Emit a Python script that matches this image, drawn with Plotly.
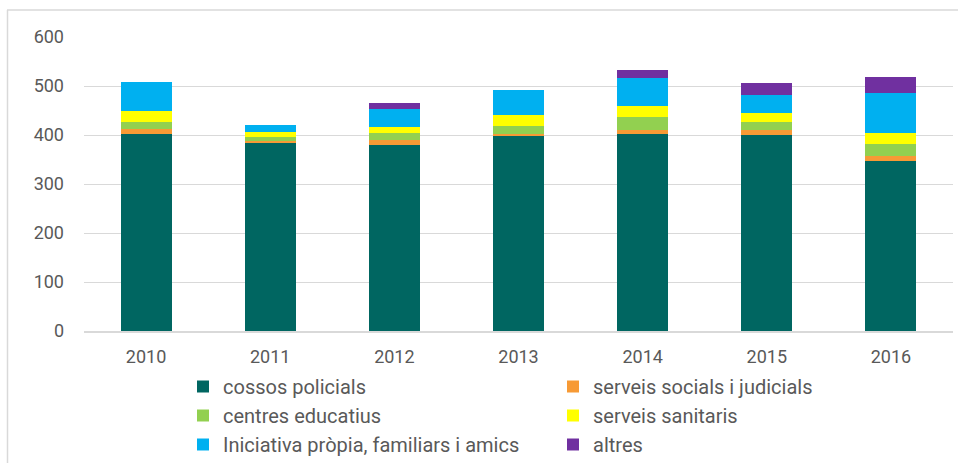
import plotly.graph_objects as go

years = ["2010", "2011", "2012", "2013", "2014", "2015", "2016"]

cossos_policials = [403, 384, 380, 398, 403, 400, 346]
serveis_socials = [9, 4, 10, 5, 8, 10, 11]
centres_educatius = [15, 7, 14, 16, 26, 16, 24]
serveis_sanitaris = [22, 11, 12, 22, 22, 18, 23]
iniciativa_propia = [59, 15, 37, 51, 57, 38, 82]
altres = [0, 0, 13, 0, 16, 25, 33]

series = [
    ("cossos policials", cossos_policials, "#006661"),
    ("serveis socials i judicials", serveis_socials, "#F79A35"),
    ("centres educatius", centres_educatius, "#92D050"),
    ("serveis sanitaris", serveis_sanitaris, "#FFFF00"),
    ("Iniciativa pròpia, familiars i amics", iniciativa_propia, "#00B0F0"),
    ("altres", altres, "#7030A0"),
]

W, H = 958, 465
ML, MR, MT, MB = 84, 5, 37, 134
PW, PH = W - ML - MR, H - MT - MB

fig = go.Figure()
for name, vals, color in series:
    fig.add_trace(go.Bar(
        x=years, y=vals, name=name,
        marker=dict(color=color, line=dict(width=0)),
    ))


def px_x(px):
    return (px - ML) / PW


def px_y(py):
    return (H - MB - py) / PH


# light frame lines along the top and left edges
frame = dict(color="#d9d9d9", width=1.5)
fig.add_shape(type="line", xref="paper", yref="paper",
              x0=px_x(7), x1=px_x(960), y0=px_y(10), y1=px_y(10),
              line=frame, layer="below")
fig.add_shape(type="line", xref="paper", yref="paper",
              x0=px_x(7.5), x1=px_x(7.5), y0=px_y(10), y1=px_y(463),
              line=frame, layer="below")

fig.update_layout(
    width=W, height=H,
    barmode="stack",
    bargap=0.59,
    plot_bgcolor="white",
    paper_bgcolor="white",
    margin=dict(l=ML, r=MR, t=MT, b=MB, autoexpand=False),
    font=dict(family="Roboto", size=18, color="#595959"),
    showlegend=True,
    legend=dict(
        orientation="h",
        x=px_x(183), xanchor="left",
        y=px_y(367), yanchor="top",
        entrywidth=325,
        traceorder="normal",
        font=dict(size=20, color="#595959"),
        itemclick=False,
    ),
    yaxis=dict(
        range=[0, 600], dtick=100,
        showgrid=True, gridcolor="#d9d9d9", gridwidth=1,
        zeroline=False, showline=False,
        ticks="", ticklabelstandoff=19,
        tickfont=dict(size=18, color="#595959"),
    ),
    xaxis=dict(
        showgrid=False, showline=True, linecolor="#d9d9d9", linewidth=1.5,
        ticks="", tickfont=dict(size=18, color="#595959"),
        ticklabelstandoff=9,
    ),
)

fig.write_html("out.html")
